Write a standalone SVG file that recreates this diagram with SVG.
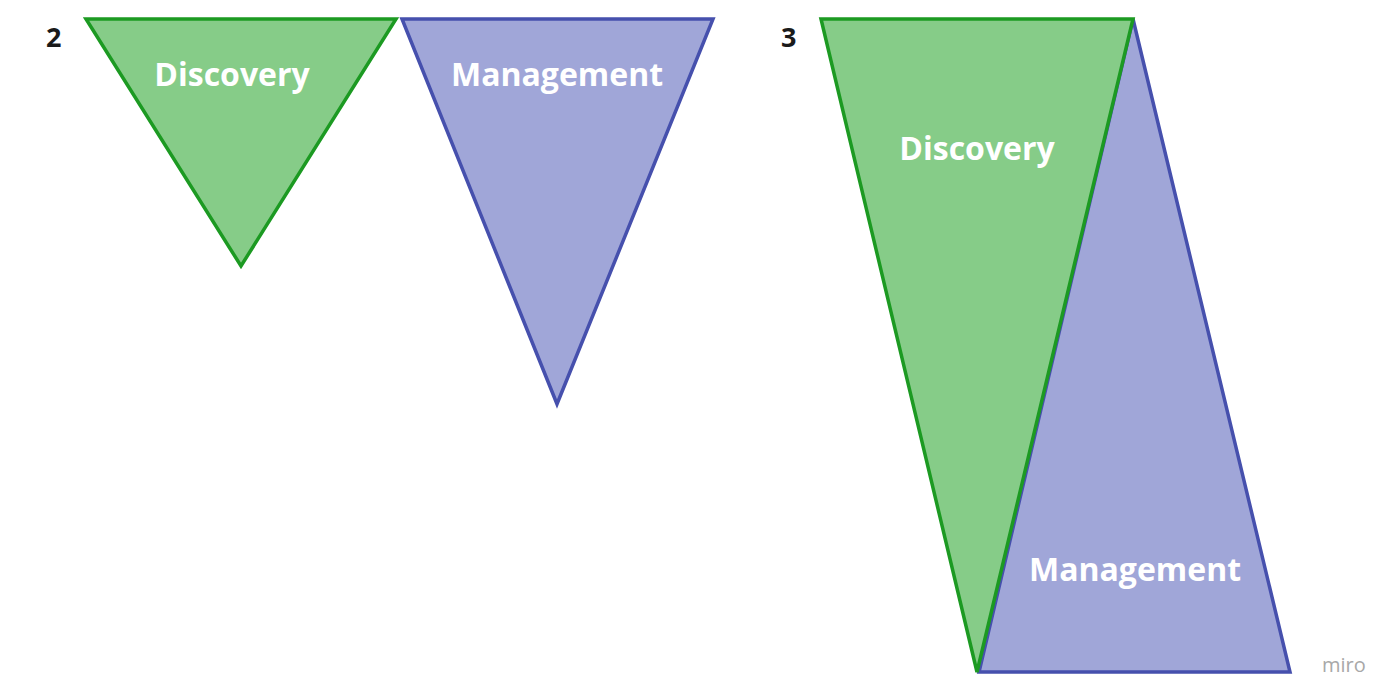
<svg xmlns="http://www.w3.org/2000/svg" width="1400" height="700" viewBox="0 0 1400 700">
<style>
.g{fill:#86cc88;stroke:#1c9a22;stroke-width:3.5;stroke-linejoin:miter}
.b{fill:#a0a6d8;stroke:#4650ad;stroke-width:3.5;stroke-linejoin:miter}
.t{font-family:"Open Sans","Noto Sans",sans-serif;font-weight:bold;font-size:32px;fill:#ffffff;text-anchor:middle}
.n{font-family:"Open Sans","Noto Sans",sans-serif;font-weight:bold;font-size:27px;fill:#1a1a1a}
.m{font-family:"Open Sans","Noto Sans",sans-serif;font-size:20px;fill:#a8a8a8}
</style>
<rect width="1400" height="700" fill="#ffffff"/>
<text class="n" x="46" y="47">2</text>
<text class="n" x="781" y="47">3</text>
<g id="discovery2">
<polygon class="g" points="86,19 396,19 241,266"/>
<text class="t" x="232" y="86">Discovery</text>
</g>
<g id="management2">
<polygon class="b" points="402,19 713,19 557,404"/>
<text class="t" x="557" y="86">Management</text>
</g>
<g id="management3">
<polygon class="b" points="1133,19 1290,672 979,672"/>
<text class="t" x="1135" y="581">Management</text>
</g>
<g id="discovery3">
<polygon class="g" points="821,19 1133,19 977,672"/>
<text class="t" x="977" y="160">Discovery</text>
</g>
<g id="connectors"></g>
<text class="m" x="1322" y="672">miro</text>
</svg>
